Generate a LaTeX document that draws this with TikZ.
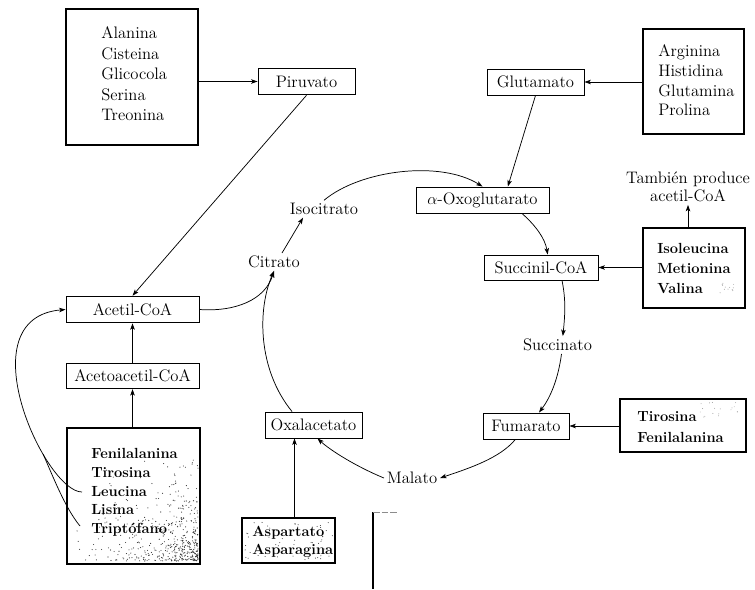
\documentclass[tikz,border=0pt]{standalone}
\usetikzlibrary{arrows.meta}
\begin{document}
\begin{tikzpicture}[x=0.75pt,y=-0.75pt,
  arr/.style={draw, line width=0.55pt, -{Stealth[length=4.8pt,width=3.4pt,inset=1.2pt]}},
  stage/.style={draw, line width=0.7pt, inner sep=0pt, font=\fontsize{12.5}{15}\selectfont},
  listbox/.style={draw, line width=1pt, inner sep=0pt},
  listtxt/.style={align=left, inner sep=0pt},
  plain/.style={inner sep=2pt, font=\fontsize{12.5}{15}\selectfont},
  speck/.style={fill=black!80}
]
\useasboundingbox (0,0) rectangle (755,589);

% ---- source boxes and metabolites ----
\node[listbox, minimum width=99pt, minimum height=102pt] (srcA) at (132,77) {};
\node[listtxt, anchor=west, font=\fontsize{12.5}{15.4}\selectfont] (srcAt) at (101,74)
  {Alanina\\Cisteina\\Glicocola\\Serina\\Treonina};

\node[stage, minimum width=72.75pt, minimum height=20pt] (piru) at (306.5,81.5) {Piruvato};
\node[stage, minimum width=99.75pt, minimum height=20pt] (acet) at (132.5,309.5) {Acetil-CoA};
\node[stage, minimum width=99.75pt, minimum height=19pt] (acac) at (132.5,376) {Acetoacetil-CoA};

\node[listbox, minimum width=99.75pt, minimum height=102pt] (srcK) at (133.5,496) {};
\node[listtxt, anchor=west, font=\fontsize{11}{14.06}\selectfont\bfseries] (srcKt) at (91,492.5)
  {Fenilalanina\\Tirosina\\Leucina\\Lisina\\Triptófano};
\coordinate (leu) at (82,492);
\coordinate (trp) at (80,526);

\node[plain] (citr) at (274,262) {Citrato};
\node[plain] (isoc) at (324,209) {Isocitrato};
\node[stage, minimum width=99.75pt, minimum height=19.5pt] (oxog) at (482.5,200) {$\alpha$-Oxoglutarato};
\node[stage, minimum width=72.75pt, minimum height=19.5pt] (glut) at (535.5,82) {Glutamato};

\node[listbox, minimum width=75.75pt, minimum height=78.75pt] (srcG) at (693.5,81.5) {};
\node[listtxt, anchor=west, font=\fontsize{12.5}{14.8}\selectfont] (srcGt) at (658,80.5)
  {Arginina\\Histidina\\Glutamina\\Prolina};

\node[stage, minimum width=85.5pt, minimum height=18.75pt] (succ) at (541,267.5) {Succinil-CoA};
\node[listbox, minimum width=76.5pt, minimum height=60pt] (srcS) at (694,268) {};
\node[listtxt, anchor=west, font=\fontsize{11}{15}\selectfont\bfseries] (srcSt) at (657,268)
  {Isoleucina\\Metionina\\Valina};
\node[plain, align=center, font=\fontsize{12.5}{13.5}\selectfont] (also) at (688,187)
  {También\ produce\\acetil-CoA};

\node[plain] (scn) at (557.5,345) {Succinato};
\node[stage, minimum width=64.5pt, minimum height=19.5pt] (fuma) at (526,426) {Fumarato};
\node[listbox, minimum width=94.5pt, minimum height=39.75pt] (srcF) at (683,425.5) {};
\node[listtxt, anchor=west, font=\fontsize{11}{15.75}\selectfont\bfseries] (srcFt) at (637,427.5)
  {Tirosina\\Fenilalanina};

\node[plain] (mala) at (412,478) {Malato};
\node[stage, minimum width=72.75pt, minimum height=19.5pt] (oxal) at (313.5,425) {Oxalacetato};
\node[listbox, minimum width=69.75pt, minimum height=33.75pt] (srcO) at (288.5,540.5) {};
\node[listtxt, anchor=west, font=\fontsize{11}{13.5}\selectfont\bfseries] (srcOt) at (252,542)
  {Aspartato\\Asparagina};

% ---- connectors ----
\draw[arr] (srcA.east |- piru.west) -- (piru.west);
\draw[arr] (piru.south) -- (acet.north);
\draw[arr] (acac.north) -- (acet.south);
\draw[arr] (srcK.north -| acac.south) -- (acac.south);
\draw[arr] (leu) .. controls (45,492) and (-35,318) .. node[pos=0.3, coordinate] (mrg) {} (acet.west);
\draw[line width=0.55pt] (trp) .. controls (65,508) and (52,474) .. (mrg);

\draw[arr] (acet.east) .. controls (235,312) and (265,300) .. (citr.south);
\draw[arr] ([xshift=-16.1pt]oxal.north) .. controls (258,370) and (257,310) .. (citr.south);
\draw[arr] ([xshift=6pt]citr.north) -- ([xshift=-15.75pt]isoc.south);
\draw[arr] (isoc.north) .. controls (360,170) and (440,160) .. (oxog.north);

\draw[arr] (glut.south) -- ([xshift=19pt]oxog.north);
\draw[arr] (srcG.west |- glut.east) -- (glut.east);
\draw[arr] ([xshift=29.6pt]oxog.south) .. controls (535,225) and (545,238) .. ([xshift=5pt]succ.north);
\draw[arr] (srcS.west |- succ.east) -- (succ.east);
\draw[arr] (also.south |- srcS.north) -- (also.south);

\draw[arr] ([xshift=15.75pt]succ.south) .. controls (566,300) and (565,315) .. ([xshift=4pt]scn.north);
\draw[arr] ([xshift=3pt]scn.south) .. controls (558,380) and (550,398) .. ([xshift=9.75pt]fuma.north);
\draw[arr] (srcF.west |- fuma.east) -- (fuma.east);
\draw[arr] ([xshift=-8pt]fuma.south) .. controls (500,458) and (470,468) .. (mala.east);
\draw[arr] (mala.west) .. controls (355,466) and (330,450) .. ([xshift=3pt]oxal.south);
\draw[arr] ([xshift=4.5pt]srcO.north) -- ([xshift=4.5pt]srcO.north |- oxal.south);

% ---- edge of a neighbouring frame ----
\draw[line width=0.8pt] (373,512) -- (373,589);
\draw[line width=0.5pt, black!45, dash pattern=on 5pt off 1.5pt] (373,512) -- (397,512);

% ---- printing grain ----
\pgfmathsetseed{11}
\foreach \i in {1,...,480}{
  \pgfmathsetmacro\xx{198-124*rnd*rnd}
  \pgfmathsetmacro\yy{561-105*rnd*rnd}
  \fill[speck] (\xx,\yy) circle[radius=0.42pt];
}
\foreach \i in {1,...,60}{
  \pgfmathsetmacro\xx{244+89*rnd}
  \pgfmathsetmacro\yy{521+40*rnd}
  \fill[speck] (\xx,\yy) circle[radius=0.38pt];
}
\foreach \i in {1,...,18}{
  \pgfmathsetmacro\xx{700+40*rnd}
  \pgfmathsetmacro\yy{402+16*rnd}
  \fill[black!40] (\xx,\yy) circle[radius=0.35pt];
}
\foreach \i in {1,...,12}{
  \pgfmathsetmacro\xx{720+14*rnd}
  \pgfmathsetmacro\yy{283+10*rnd}
  \fill[black!40] (\xx,\yy) circle[radius=0.35pt];
}
\end{tikzpicture}
\end{document}
